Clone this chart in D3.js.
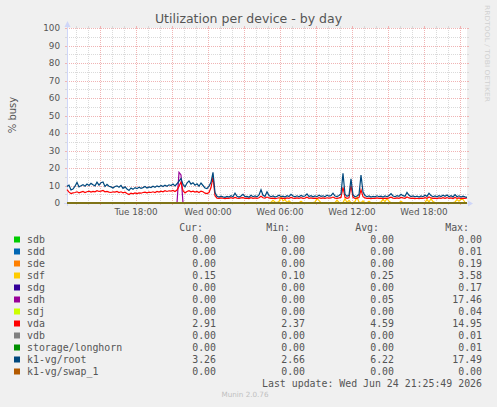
<!DOCTYPE html>
<html>
<head>
<meta charset="utf-8">
<script src="https://cdn.jsdelivr.net/npm/d3@7"></script>
<style>
  body { margin: 0; background: #F0F0F0; }
  svg text { font-family: "DejaVu Sans", sans-serif; }
  .mono { font-family: "DejaVu Sans Mono", monospace !important; }
</style>
</head>
<body>
<div id="chart"></div>
<script>
// Samples every 10 minutes, starting Tue 12:15 (munin "by day" view)
const startTime = new Date(2026, 5, 23, 12, 15);
const stepMinutes = 10;

const rootValues = [
  9.5,10.2,7.5,8.0,9.6,11.8,9.2,9.8,10.5,9.6,
  10.8,10.0,11.2,10.4,9.8,11.9,10.2,11.6,12.0,9.4,
  10.6,9.6,9.2,8.6,9.4,9.8,9.0,10.1,8.4,9.2,
  8.0,7.2,8.6,7.8,8.8,8.2,9.0,8.4,8.8,9.4,
  8.6,9.2,8.8,9.6,9.0,9.8,9.2,10.0,9.4,10.2,
  9.6,10.4,10.0,10.8,9.8,11.0,12.5,14.0,10.6,9.2,
  11.4,12.6,10.8,11.6,10.2,11.0,9.6,11.4,10.0,8.6,
  8.2,9.6,11.8,17.49,6.0,3.8,3.4,3.9,3.5,3.2,
  3.8,3.4,4.2,3.6,5.6,3.8,3.4,4.0,5.0,3.6,
  3.8,3.3,4.4,3.6,4.0,3.5,4.6,7.6,4.4,3.8,
  6.4,4.2,3.6,4.0,3.4,3.8,4.4,3.6,3.9,3.4,
  4.2,3.7,5.0,4.0,3.5,4.1,3.6,4.3,3.8,4.0,
  5.2,3.7,4.2,3.5,4.0,3.6,4.4,3.8,4.1,3.6,
  4.5,3.9,4.2,5.6,4.0,3.7,4.3,5.2,17.0,5.0,
  3.8,4.4,13.8,4.6,3.6,4.0,4.8,16.0,6.2,4.2,
  3.6,4.0,3.4,3.8,3.5,4.1,3.6,3.9,3.4,4.0,
  3.6,4.2,5.4,4.0,3.6,4.2,3.8,5.0,4.2,3.8,
  6.0,4.4,3.7,4.0,3.5,3.9,3.4,4.0,3.6,4.4,
  3.8,5.6,4.2,3.6,4.0,3.5,4.2,3.7,4.4,3.8,
  4.6,3.6,4.2,3.5,4.8,3.6,4.1,3.4,3.9,3.5,
  3.26
];

const vdaValues = [
  7.6,6.2,5.4,5.8,6.0,6.4,5.8,6.2,6.6,6.0,
  6.4,6.8,6.2,6.6,6.4,7.0,6.6,6.8,7.2,6.4,
  6.6,6.2,6.0,6.4,6.2,6.6,6.0,6.4,5.8,6.2,
  5.4,4.8,5.6,5.2,5.8,5.4,5.8,5.6,6.0,6.2,
  5.8,6.2,6.0,6.4,6.0,6.6,6.2,6.8,6.4,7.0,
  6.6,7.0,6.8,7.2,6.6,7.4,9.6,12.0,7.0,5.8,
  6.6,7.0,6.4,6.8,6.2,6.6,6.0,6.8,6.4,5.6,
  5.4,6.0,8.8,14.95,4.2,2.8,2.6,2.9,2.7,2.5,
  2.8,2.6,3.0,2.7,3.2,2.8,2.6,2.9,3.1,2.7,
  2.8,2.5,3.0,2.7,2.9,2.6,3.0,3.8,3.0,2.8,
  3.4,2.9,2.6,2.8,2.5,2.7,3.0,2.7,2.8,2.5,
  2.9,2.7,3.2,2.8,2.6,2.9,2.6,3.0,2.7,2.8,
  3.3,2.7,2.9,2.6,2.8,2.6,3.0,2.7,2.9,2.6,
  3.0,2.8,2.9,3.4,2.8,2.7,2.9,3.2,9.0,3.2,
  2.7,3.0,10.0,3.2,2.6,2.8,3.1,7.5,3.6,2.9,
  2.6,2.8,2.5,2.7,2.6,2.9,2.6,2.8,2.5,2.8,
  2.6,2.9,3.3,2.8,2.6,2.9,2.7,3.2,2.9,2.7,
  3.4,2.9,2.6,2.8,2.5,2.7,2.5,2.8,2.6,3.0,
  2.7,3.4,2.9,2.6,2.8,2.5,2.9,2.6,3.0,2.7,
  3.1,2.6,2.9,2.5,3.2,2.6,2.9,2.5,2.8,2.6,
  2.91
];

const sdfValues = [
  0.2,0.2,0.2,0.2,0.2,0.2,0.2,0.2,0.2,0.2,
  0.2,0.2,0.2,0.2,0.2,0.2,0.2,0.2,0.2,0.2,
  0.2,0.2,0.2,0.2,0.2,0.2,0.2,0.2,0.2,0.2,
  0.2,0.2,0.2,0.2,0.2,0.2,0.2,0.2,0.2,0.2,
  0.2,0.2,0.2,0.2,0.2,0.2,0.2,0.2,0.2,0.2,
  0.2,0.2,0.2,0.2,0.2,0.2,0.2,0.2,0.2,0.2,
  0.2,0.2,0.2,0.2,0.2,0.2,0.2,0.2,0.2,0.2,
  0.2,0.2,0.2,0.2,0.2,0.2,0.2,0.2,0.2,0.2,
  0.2,0.2,0.2,0.2,0.2,0.2,0.2,0.2,0.2,0.2,
  0.2,0.2,0.2,0.2,0.2,0.2,0.2,0.2,0.2,0.2,
  0.2,0.2,0.4,1.5,0.6,0.2,0.8,3.58,1.2,2.0,
  0.3,1.2,0.2,0.2,0.2,0.2,0.2,1.0,0.2,0.2,
  0.2,0.2,0.2,0.2,0.6,2.6,1.4,0.2,0.2,0.2,
  0.2,0.2,0.2,0.2,0.2,1.6,0.3,0.2,0.2,2.4,
  0.3,1.5,0.2,0.2,0.8,3.4,0.6,0.2,1.2,0.2,
  0.2,1.0,0.2,0.2,0.2,0.2,0.2,0.6,2.0,0.8,
  2.6,1.0,0.2,0.2,0.2,0.2,0.2,1.0,0.2,0.2,
  0.2,0.2,0.2,0.2,0.2,0.2,0.2,0.2,0.2,0.2,
  2.0,0.6,2.4,0.8,0.2,0.2,0.2,0.2,0.2,0.2,
  0.2,0.2,0.2,0.2,0.6,2.0,1.0,2.2,2.0,0.4,
  0.15
];

const sdhValues = [
  0,0,0,0,0,0,0,0,0,0, 0,0,0,0,0,0,0,0,0,0,
  0,0,0,0,0,0,0,0,0,0, 0,0,0,0,0,0,0,0,0,0,
  0,0,0,0,0,0,0,0,0,0, 0,0,0,0,0,0,17.46,16.0,0,0,
  0,0,0,0,0,0,0,0,0,0, 0,0,0,0,0,0,0,0,0,0,
  0,0,0,0,0,0,0,0,0,0, 0,0,0,0,0,0,0,0,0,0,
  0,0,0,0,0,0,0,0,0,0, 0,0,0,0,0,0,0,0,0,0,
  0,0,0,0,0,0,0,0,0,0, 0,0,0,0,0,0,0,0,0,0,
  0,0,0,0,0,0,0,0,0,0, 0,0,0,0,0,0,0,0,0,0,
  0,0,0,0,0,0,0,0,0,0, 0,0,0,0,0,0,0,0,0,0,
  0,0,0,0,0,0,0,0,0,0, 0,0,0,0,0,0,0,0,0,0,
  0
];

// the other devices sit at 0 % the whole day
const idleValues = rootValues.map(() => 0);

const deviceNames = ["sdb", "sdd", "sde", "sdf", "sdg", "sdh", "sdj", "vda", "vdb",
  "storage/longhorn", "k1-vg/root", "k1-vg/swap_1"];
const deviceColors = ["#00CC00", "#0066B3", "#FF8000", "#FFCC00", "#330099", "#990099",
  "#CCFF00", "#FF0000", "#808080", "#008F00", "#00487D", "#B35A00"];
const deviceSeries = [idleValues, idleValues, idleValues, sdfValues, idleValues, sdhValues,
  idleValues, vdaValues, idleValues, idleValues, rootValues, idleValues];

const curValues = ["0.00", "0.00", "0.00", "0.15", "0.00", "0.00", "0.00", "2.91", "0.00", "0.00", "3.26", "0.00"];
const minValues = ["0.00", "0.00", "0.00", "0.10", "0.00", "0.00", "0.00", "2.37", "0.00", "0.00", "2.66", "0.00"];
const avgValues = ["0.00", "0.00", "0.00", "0.25", "0.00", "0.05", "0.00", "4.59", "0.00", "0.00", "6.22", "0.00"];
const maxValues = ["0.00", "0.01", "0.19", "3.58", "0.17", "17.46", "0.04", "14.95", "0.01", "0.01", "17.49", "0.00"];

const yTicks = [0, 10, 20, 30, 40, 50, 60, 70, 80, 90, 100];

// Layout
const W = 497, H = 407;
const plot = { left: 67, right: 467, top: 28, bottom: 203 };
const endTime = new Date(startTime.getTime() + 200 * stepMinutes * 60000);

const svg = d3.select("#chart").append("svg")
  .attr("width", W).attr("height", H);

svg.append("rect").attr("width", W).attr("height", H).attr("fill", "#F0F0F0");
svg.append("rect")
  .attr("x", plot.left).attr("y", plot.top)
  .attr("width", plot.right - plot.left).attr("height", plot.bottom - plot.top)
  .attr("fill", "#FFFFFF");

const x = d3.scaleTime().domain([startTime, endTime]).range([plot.left, plot.right]);
const y = d3.scaleLinear().domain([0, 100]).range([plot.bottom, plot.top]);

const px = v => Math.round(v) + 0.5;
const minorColor = "#DADADA", majorColor = "#F0B4B4";

// Grid
const grid = svg.append("g");
function hGrid(v, color) {
  const yy = px(y(v));
  grid.append("line").attr("x1", plot.left).attr("x2", plot.right).attr("y1", yy).attr("y2", yy)
    .attr("stroke", color).attr("stroke-dasharray", "1,1");
  grid.append("line").attr("x1", plot.left - 2).attr("x2", plot.left).attr("y1", yy).attr("y2", yy).attr("stroke", color);
  grid.append("line").attr("x1", plot.right).attr("x2", plot.right + 2).attr("y1", yy).attr("y2", yy).attr("stroke", color);
}
function vGrid(t, color) {
  const xx = px(x(t));
  grid.append("line").attr("x1", xx).attr("x2", xx).attr("y1", plot.top).attr("y2", plot.bottom)
    .attr("stroke", color).attr("stroke-dasharray", "1,1");
  grid.append("line").attr("x1", xx).attr("x2", xx).attr("y1", plot.bottom).attr("y2", plot.bottom + 2).attr("stroke", color);
  grid.append("line").attr("x1", xx).attr("x2", xx).attr("y1", plot.top - 2).attr("y2", plot.top).attr("stroke", color);
}
const hours = d3.timeHour.range(d3.timeHour.ceil(startTime), endTime);
d3.range(5, 100, 10).forEach(v => hGrid(v, minorColor));
hours.filter(h => h.getHours() % 3 !== 0).forEach(h => vGrid(h, minorColor));
yTicks.forEach(v => hGrid(v, majorColor));
hours.filter(h => h.getHours() % 3 === 0).forEach(h => vGrid(h, majorColor));

// Axes (rrdtool style: thin light-blue lines with arrows)
const axisColor = "#CFD6F8";
svg.append("line").attr("x1", plot.left - 3).attr("x2", plot.right + 3)
  .attr("y1", px(y(0))).attr("y2", px(y(0))).attr("stroke", axisColor);
svg.append("line").attr("x1", px(plot.left)).attr("x2", px(plot.left))
  .attr("y1", plot.bottom + 3).attr("y2", plot.top - 3).attr("stroke", axisColor);
svg.append("path").attr("fill", axisColor)
  .attr("d", `M${plot.right + 1},${px(y(0)) - 3}L${plot.right + 6},${px(y(0))}L${plot.right + 1},${px(y(0)) + 3}Z`);
svg.append("path").attr("fill", axisColor)
  .attr("d", `M${px(plot.left) - 3},${plot.top - 1}L${px(plot.left)},${plot.top - 7}L${px(plot.left) + 3},${plot.top - 1}Z`);

// Tick labels
svg.append("g").selectAll("text").data(yTicks).join("text")
  .attr("x", 60).attr("y", d => y(d)).attr("dy", "0.35em")
  .attr("text-anchor", "end").attr("font-size", 8.8).attr("fill", "#555")
  .text(d => d);

const fmt = d3.timeFormat("%a %H:%M");
svg.append("g").selectAll("text").data(hours.filter(h => h.getHours() % 6 === 0)).join("text")
  .attr("x", d => x(d)).attr("y", 215)
  .attr("text-anchor", "middle").attr("font-size", 8.8).attr("fill", "#555")
  .text(d => fmt(d));

// Data lines, drawn in legend order like munin
const line = d3.line()
  .x((d, i) => x(new Date(startTime.getTime() + i * stepMinutes * 60000)))
  .y(d => y(d));
const lines = svg.append("g");
deviceSeries.forEach((vals, k) => {
  lines.append("path")
    .attr("d", line(vals))
    .attr("fill", "none")
    .attr("stroke", deviceColors[k])
    .attr("stroke-width", 1.2);
});

// Titles
svg.append("text").attr("x", 248.5).attr("y", 23)
  .attr("text-anchor", "middle").attr("font-size", 12.5).attr("fill", "#555")
  .text("Utilization per device - by day");
svg.append("text").attr("transform", "translate(16,115) rotate(-90)")
  .attr("text-anchor", "middle").attr("font-size", 10).attr("fill", "#555")
  .text("% busy");
svg.append("text").attr("transform", "translate(485,5) rotate(90)")
  .attr("font-size", 6.6).attr("fill", "#D0D0D0")
  .attr("textLength", 97).attr("lengthAdjust", "spacingAndGlyphs")
  .text("RRDTOOL / TOBI OETIKER");

// Legend
const legend = svg.append("g").attr("class", "legend");
const colEnds = [216, 305, 394, 482];
const headEnds = [203, 290, 379, 469];
["Cur:", "Min:", "Avg:", "Max:"].forEach((h, j) => {
  legend.append("text").attr("class", "mono").attr("x", headEnds[j]).attr("y", 230.5)
    .attr("text-anchor", "end").attr("font-size", 9.9).attr("fill", "#555").text(h);
});
const cols = [curValues, minValues, avgValues, maxValues];
deviceNames.forEach((name, i) => {
  const by = 242.5 + i * 12;
  legend.append("rect").attr("x", 14).attr("y", by - 6).attr("width", 6).attr("height", 6)
    .attr("fill", deviceColors[i]);
  legend.append("text").attr("class", "mono").attr("x", 27).attr("y", by)
    .attr("font-size", 9.9).attr("fill", "#555").text(name);
  cols.forEach((c, j) => {
    legend.append("text").attr("class", "mono").attr("x", colEnds[j]).attr("y", by)
      .attr("text-anchor", "end").attr("font-size", 9.9).attr("fill", "#555").text(c[i]);
  });
});
legend.append("text").attr("class", "mono").attr("x", 482).attr("y", 386.5)
  .attr("text-anchor", "end").attr("font-size", 9.9).attr("fill", "#555")
  .text("Last update: Wed Jun 24 21:25:49 2026");

svg.append("text").attr("x", 245).attr("y", 397)
  .attr("text-anchor", "middle").attr("font-size", 7.2).attr("fill", "#C0C0C0")
  .text("Munin 2.0.76");
</script>
</body>
</html>
